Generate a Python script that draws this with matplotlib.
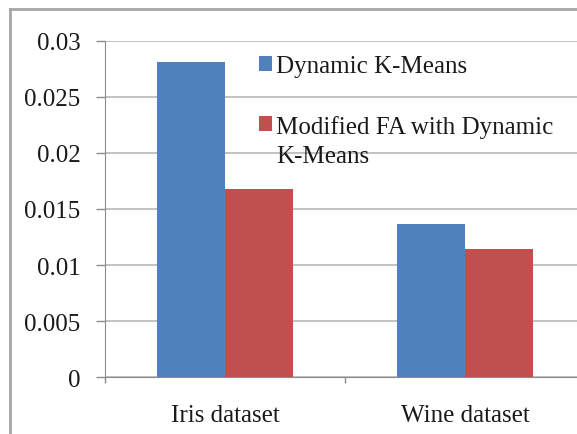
"""
Bar chart: Dynamic K-Means vs Modified FA with Dynamic K-Means
"""

import matplotlib

matplotlib.use("Agg")
import matplotlib.pyplot as plt
import numpy as np
from matplotlib.legend_handler import HandlerPatch
from matplotlib.lines import Line2D
from matplotlib.patches import Rectangle
from matplotlib.ticker import FuncFormatter, MultipleLocator

# data
categories = ["Iris dataset", "Wine dataset"]
series_names = ["Dynamic K-Means", "Modified FA with Dynamic\nK-Means"]
dynamic_kmeans = [0.0281, 0.0137]
modified_fa = [0.0168, 0.0114]

# colors (Excel 2007 defaults)
colors = ["#4F81BD", "#C0504D"]
text_color = "#1a1a1a"


class TopAlignedHandler(HandlerPatch):
    """Square legend marker aligned with the first line of a wrapped label"""

    def __init__(self, shift=0.0):
        super().__init__()
        self.shift = shift

    def create_artists(self, legend, orig_handle, xdescent, ydescent,
                       width, height, fontsize, trans):
        p = Rectangle((-xdescent, -ydescent + self.shift * fontsize), width, height)
        self.update_prop(p, orig_handle, legend)
        p.set_transform(trans)
        return [p]


plt.rcParams["font.family"] = ["Liberation Serif", "DejaVu Serif"]
plt.rcParams["font.size"] = 18

W, H = 577, 435
fig = plt.figure(figsize=(W / 100, H / 100), dpi=100)
ax = fig.add_axes([105 / W, 56.7 / H, 1 - 105 / W, (378.3 - 41.7) / H])

x = np.arange(len(categories))
bar_w = 0.283
b1 = ax.bar(x - bar_w / 2, dynamic_kmeans, bar_w, color=colors[0], zorder=2)
b2 = ax.bar(x + bar_w / 2, modified_fa, bar_w, color=colors[1], zorder=2)

# axes limits and ticks
ax.set_ylim(0, 0.03)
ax.set_xlim(-0.5, -0.5 + (W - 105) / 240)
ax.yaxis.set_major_locator(MultipleLocator(0.005))
ax.yaxis.set_major_formatter(FuncFormatter(lambda v, p: f"{v:g}"))
ax.set_xticks(x)
ax.set_xticklabels(categories)
ax.set_xticks([-0.5, 0.5], minor=True)

ax.grid(axis="y", color="#b8b8b8", linewidth=1.2, zorder=0)
ax.tick_params(axis="y", length=6.5, width=1, color="#8c8c8c", pad=11,
               labelcolor=text_color)
ax.tick_params(axis="x", which="major", length=0, pad=19, labelcolor=text_color)
ax.tick_params(axis="x", which="minor", length=4, width=1, color="#8c8c8c")

for side in ["top", "right"]:
    ax.spines[side].set_visible(False)
ax.spines["left"].set_color("#8c8c8c")
ax.spines["bottom"].set_color("#8c8c8c")

# legend inside the plot area, no frame
leg = ax.legend(
    [b1.patches[0], b2.patches[0]],
    series_names,
    handler_map={b1.patches[0]: TopAlignedHandler(0.0),
                 b2.patches[0]: TopAlignedHandler(0.68)},
    loc="upper left",
    bbox_to_anchor=(246 / W, 1 - 44 / H),
    bbox_transform=fig.transFigure,
    frameon=False,
    borderpad=0,
    handlelength=0.52,
    handleheight=0.52,
    handletextpad=0.2,
    labelspacing=1.5,
    fontsize=18,
)
for t in leg.get_texts():
    t.set_color(text_color)
    t.set_linespacing(1.4)

# chart border (left and top edges visible)
border = "#a6a6a6"
fig.add_artist(Line2D([10 / W, 10 / W], [0, 1 - 10 / H], color=border,
                      linewidth=2, transform=fig.transFigure))
fig.add_artist(Line2D([10 / W, 1], [1 - 10 / H, 1 - 10 / H], color=border,
                      linewidth=2, transform=fig.transFigure))

fig.savefig("out.png", dpi=100)
